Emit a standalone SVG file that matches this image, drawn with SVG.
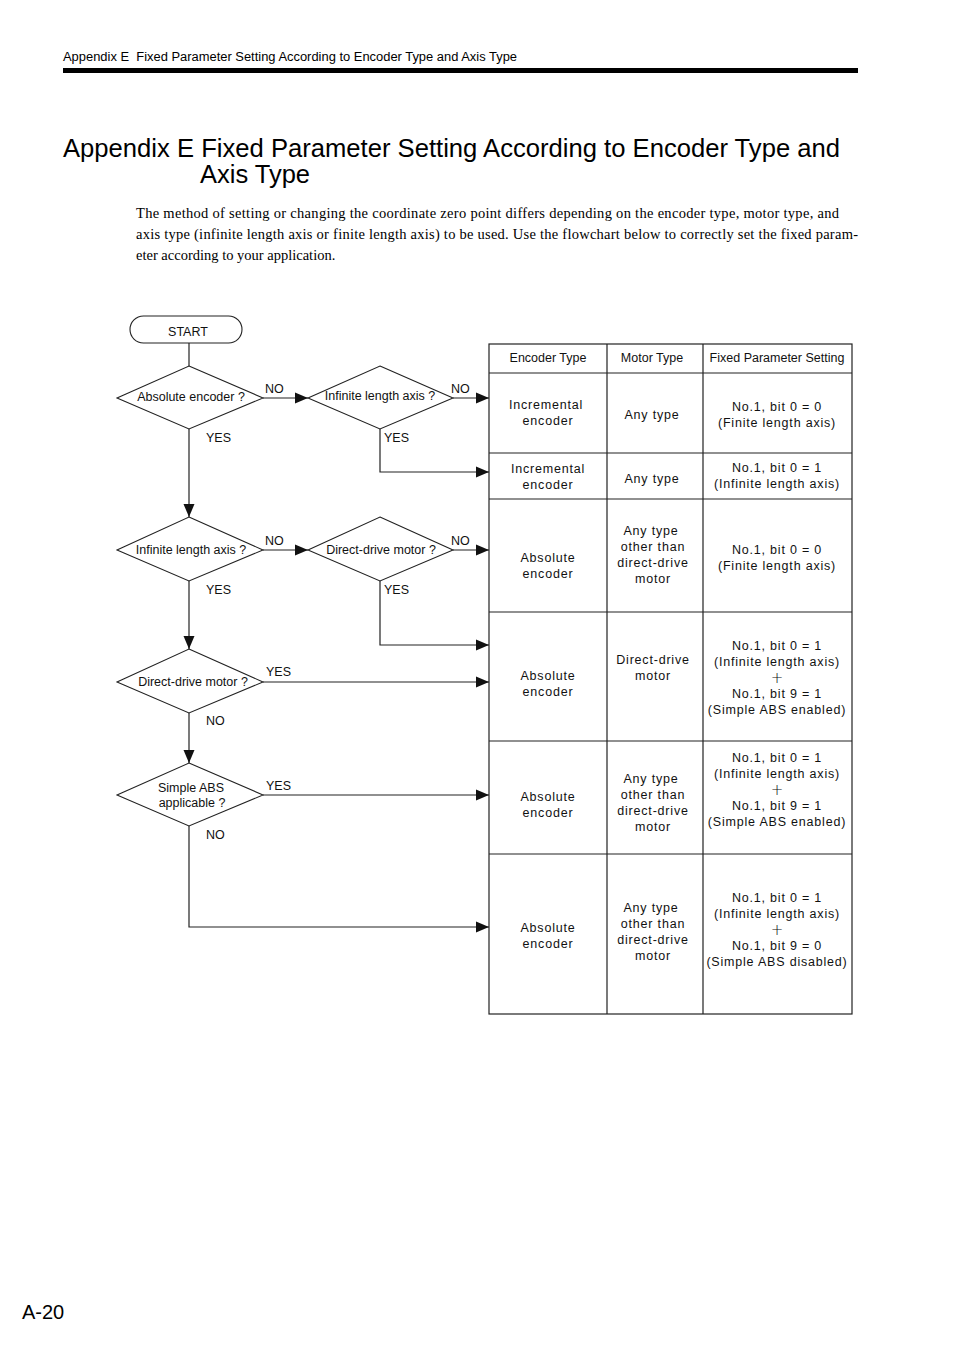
<svg xmlns="http://www.w3.org/2000/svg" width="954" height="1350" viewBox="0 0 954 1350">
<style>
.hd{font-family:"Liberation Sans",Arial,sans-serif;fill:#000}
.fc{font-family:"Liberation Sans",Arial,sans-serif;font-size:12.5px;fill:#111;text-anchor:middle}
.lb{font-family:"Liberation Sans",Arial,sans-serif;font-size:12.5px;fill:#111}
.tb{font-family:"Liberation Sans",Arial,sans-serif;font-size:12.5px;fill:#111;text-anchor:middle;letter-spacing:0.8px}
.pl{font-family:"DejaVu Sans",sans-serif;font-size:15px;font-weight:300;fill:#111;text-anchor:middle}
.th{font-family:"Liberation Sans",Arial,sans-serif;font-size:12.5px;fill:#111;text-anchor:middle}
.p{font-family:"Liberation Serif","Times New Roman",serif;font-size:14.5px;fill:#000}
.sh{fill:#fff;stroke:#222;stroke-width:1.1}
.ln{fill:none;stroke:#222;stroke-width:1.2}
.tl{stroke:#222;stroke-width:1.2;fill:none}
</style>
<defs>
<marker id="ar" markerUnits="userSpaceOnUse" markerWidth="14" markerHeight="12" refX="13" refY="6" orient="auto">
<path d="M0,0.5 L13,6 L0,11.5 Z" fill="#111"/>
</marker>
</defs>
<rect width="954" height="1350" fill="#fff"/>
<text class="hd" x="63" y="61" font-size="12" textLength="454" lengthAdjust="spacingAndGlyphs">Appendix E&#160; Fixed Parameter Setting According to Encoder Type and Axis Type</text>
<rect x="63" y="68" width="795" height="5" fill="#000"/>
<text class="hd" x="63" y="157" font-size="25" textLength="777" lengthAdjust="spacingAndGlyphs">Appendix E Fixed Parameter Setting According to Encoder Type and</text>
<text class="hd" x="200" y="183" font-size="25" textLength="110" lengthAdjust="spacingAndGlyphs">Axis Type</text>
<text class="p" x="136" y="218" textLength="703" lengthAdjust="spacing">The method of setting or changing the coordinate zero point differs depending on the encoder type, motor type, and</text>
<text class="p" x="136" y="239" textLength="722" lengthAdjust="spacing">axis type (infinite length axis or finite length axis) to be used. Use the flowchart below to correctly set the fixed param-</text>
<text class="p" x="136" y="260">eter according to your application.</text>

<g id="connectors">
<path class="ln" d="M189,343 V366"/>
<path class="ln" d="M263,398 H308" marker-end="url(#ar)"/>
<path class="ln" d="M453,398 H489" marker-end="url(#ar)"/>
<path class="ln" d="M380,429 V472 H489" marker-end="url(#ar)"/>
<path class="ln" d="M189,429 V517" marker-end="url(#ar)"/>
<path class="ln" d="M263,550 H308" marker-end="url(#ar)"/>
<path class="ln" d="M453,550 H489" marker-end="url(#ar)"/>
<path class="ln" d="M380,581 V645 H489" marker-end="url(#ar)"/>
<path class="ln" d="M189,581 V649" marker-end="url(#ar)"/>
<path class="ln" d="M263,682 H489" marker-end="url(#ar)"/>
<path class="ln" d="M189,713 V763" marker-end="url(#ar)"/>
<path class="ln" d="M263,795 H489" marker-end="url(#ar)"/>
<path class="ln" d="M189,826 V927 H489" marker-end="url(#ar)"/>
<text class="lb" x="265" y="393">NO</text>
<text class="lb" x="206" y="442">YES</text>
<text class="lb" x="451" y="393">NO</text>
<text class="lb" x="384" y="442">YES</text>
<text class="lb" x="265" y="545">NO</text>
<text class="lb" x="206" y="594">YES</text>
<text class="lb" x="451" y="545">NO</text>
<text class="lb" x="384" y="594">YES</text>
<text class="lb" x="266" y="676">YES</text>
<text class="lb" x="206" y="725">NO</text>
<text class="lb" x="266" y="790">YES</text>
<text class="lb" x="206" y="839">NO</text>
</g>

<g id="start">
<rect class="sh" x="130" y="316" width="112" height="27" rx="13.5"/>
<text class="fc" x="188" y="335.5">START</text>
</g>
<g id="d1">
<path class="sh" d="M189,366 L263,398 L189,429 L117,398 Z"/>
<text class="fc" x="191" y="401">Absolute encoder ?</text>
</g>
<g id="d2">
<path class="sh" d="M380,366 L453,398 L380,429 L308,398 Z"/>
<text class="fc" x="380" y="400">Infinite length axis ?</text>
</g>
<g id="d3">
<path class="sh" d="M189,517 L263,550 L189,581 L117,550 Z"/>
<text class="fc" x="191" y="554">Infinite length axis ?</text>
</g>
<g id="d4">
<path class="sh" d="M380,517 L453,550 L380,581 L308,550 Z"/>
<text class="fc" x="381" y="554">Direct-drive motor ?</text>
</g>
<g id="d5">
<path class="sh" d="M189,649 L263,682 L189,713 L117,682 Z"/>
<text class="fc" x="193" y="686">Direct-drive motor ?</text>
</g>
<g id="d6">
<path class="sh" d="M189,763 L263,795 L189,826 L117,795 Z"/>
<text class="fc" x="191" y="792">Simple ABS</text>
<text class="fc" x="192" y="807">applicable ?</text>
</g>

<g id="table">
<rect class="tl" x="489" y="344" width="363" height="670"/>
<path class="tl" d="M607,344 V1014 M703,344 V1014 M489,373 H852 M489,453 H852 M489,499 H852 M489,612 H852 M489,741 H852 M489,854 H852"/>
<text class="th" x="548" y="362">Encoder Type</text>
<text class="th" x="652" y="362">Motor Type</text>
<text class="th" x="777" y="362">Fixed Parameter Setting</text>

<text class="tb" x="546" y="409">Incremental</text>
<text class="tb" x="548" y="425">encoder</text>
<text class="tb" x="652" y="419">Any type</text>
<text class="tb" x="777" y="411">No.1, bit 0 = 0</text>
<text class="tb" x="777" y="427">(Finite length axis)</text>

<text class="tb" x="548" y="473">Incremental</text>
<text class="tb" x="548" y="489">encoder</text>
<text class="tb" x="652" y="483">Any type</text>
<text class="tb" x="777" y="472">No.1, bit 0 = 1</text>
<text class="tb" x="777" y="488">(Infinite length axis)</text>

<text class="tb" x="548" y="562">Absolute</text>
<text class="tb" x="548" y="578">encoder</text>
<text class="tb" x="651" y="535">Any type</text>
<text class="tb" x="653" y="551">other than</text>
<text class="tb" x="653" y="567">direct-drive</text>
<text class="tb" x="653" y="583">motor</text>
<text class="tb" x="777" y="554">No.1, bit 0 = 0</text>
<text class="tb" x="777" y="570">(Finite length axis)</text>

<text class="tb" x="548" y="680">Absolute</text>
<text class="tb" x="548" y="696">encoder</text>
<text class="tb" x="653" y="664">Direct-drive</text>
<text class="tb" x="653" y="680">motor</text>
<text class="tb" x="777" y="650">No.1, bit 0 = 1</text>
<text class="tb" x="777" y="666">(Infinite length axis)</text>
<text class="pl" x="777" y="682.5">+</text>
<text class="tb" x="777" y="698">No.1, bit 9 = 1</text>
<text class="tb" x="777" y="714">(Simple ABS enabled)</text>

<text class="tb" x="548" y="801">Absolute</text>
<text class="tb" x="548" y="817">encoder</text>
<text class="tb" x="651" y="783">Any type</text>
<text class="tb" x="653" y="799">other than</text>
<text class="tb" x="653" y="815">direct-drive</text>
<text class="tb" x="653" y="831">motor</text>
<text class="tb" x="777" y="762">No.1, bit 0 = 1</text>
<text class="tb" x="777" y="778">(Infinite length axis)</text>
<text class="pl" x="777" y="794.5">+</text>
<text class="tb" x="777" y="810">No.1, bit 9 = 1</text>
<text class="tb" x="777" y="826">(Simple ABS enabled)</text>

<text class="tb" x="548" y="932">Absolute</text>
<text class="tb" x="548" y="948">encoder</text>
<text class="tb" x="651" y="912">Any type</text>
<text class="tb" x="653" y="928">other than</text>
<text class="tb" x="653" y="944">direct-drive</text>
<text class="tb" x="653" y="960">motor</text>
<text class="tb" x="777" y="902">No.1, bit 0 = 1</text>
<text class="tb" x="777" y="918">(Infinite length axis)</text>
<text class="pl" x="777" y="934.5">+</text>
<text class="tb" x="777" y="950">No.1, bit 9 = 0</text>
<text class="tb" x="777" y="966">(Simple ABS disabled)</text>
</g>

<text class="hd" x="22" y="1319" font-size="20">A-20</text>
</svg>
